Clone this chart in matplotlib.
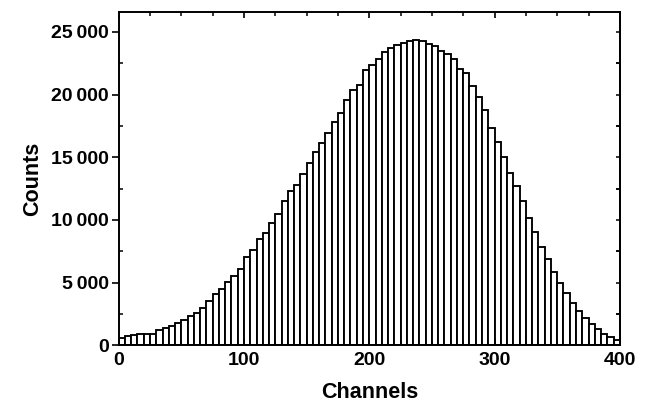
import numpy as np
import matplotlib
matplotlib.use('Agg')
import matplotlib.pyplot as plt
from matplotlib.ticker import MultipleLocator, FixedLocator

# histogram: 80 bins of 5 channels each, counts
bin_edges_left = np.arange(0, 400, 5)
counts = [
    613, 720, 800, 880, 880, 933, 1173, 1387, 1520, 1787,
    2000, 2320, 2587, 2933, 3547, 4080, 4480, 5013, 5520, 6053,
    7013, 7600, 8453, 8987, 9787, 10453, 11467, 12267, 12800, 13680,
    14533, 15380, 16160, 16933, 17800, 18533, 19600, 20347, 20800, 22000,
    22320, 22853, 23387, 23733, 23920, 24133, 24267, 24347, 24300, 24050,
    23850, 23500, 23200, 22800, 22050, 21700, 20650, 19800, 18800, 17333,
    16187, 15000, 13733, 12720, 11520, 10133, 9067, 7867, 6880, 5867,
    4933, 4133, 3333, 2720, 2187, 1680, 1280, 933, 667, 453,
]

y_ticks = [0, 5000, 10000, 15000, 20000, 25000]
y_tick_labels = ['0', '5\u2009000', '10\u2009000', '15\u2009000', '20\u2009000', '25\u2009000']
x_ticks = [0, 100, 200, 300, 400]

plt.rcParams['font.family'] = ['Liberation Sans', 'DejaVu Sans']
plt.rcParams['font.weight'] = 'bold'

fig = plt.figure(figsize=(6.45, 4.09), dpi=100)
ax = fig.add_axes([0.184, 0.156, 0.777, 0.815])

ax.bar(bin_edges_left, counts, width=5, align='edge',
       facecolor='white', edgecolor='black', linewidth=1.35)

ax.set_xlim(0, 400)
ax.set_ylim(0, 26600)

ax.set_yticks(y_ticks)
ax.set_yticklabels(y_tick_labels)
ax.set_xticks(x_ticks)
ax.xaxis.set_minor_locator(MultipleLocator(25))
ax.yaxis.set_minor_locator(MultipleLocator(2500))

for s in ax.spines.values():
    s.set_linewidth(1.4)

ax.tick_params(axis='y', which='major', direction='out', length=5, width=1.2,
               labelsize=14, pad=2, right=False)
ax.tick_params(axis='y', which='minor', direction='in', length=3, width=1.1,
               left=True, right=True)
ax.tick_params(axis='x', which='major', direction='in', length=4, width=1.2,
               labelsize=14, pad=5, top=True)
ax.tick_params(axis='x', which='minor', direction='in', length=3, width=1.1,
               top=True)
for lab in ax.get_xticklabels() + ax.get_yticklabels():
    lab.set_fontweight('bold')

# right-hand side ticks every 2500, pointing inward
ax2 = ax.secondary_yaxis('right')
ax2.yaxis.set_major_locator(FixedLocator(list(range(0, 26600, 2500))))
ax2.tick_params(direction='in', length=3, width=1.1, labelright=False)
ax2.spines['right'].set_linewidth(1.4)

ax.set_xlabel('Channels', fontsize=15.5, fontweight='bold', labelpad=9)
ax.set_ylabel('Counts', fontsize=15.5, fontweight='bold', labelpad=6)

fig.savefig('out.png', dpi=100)
